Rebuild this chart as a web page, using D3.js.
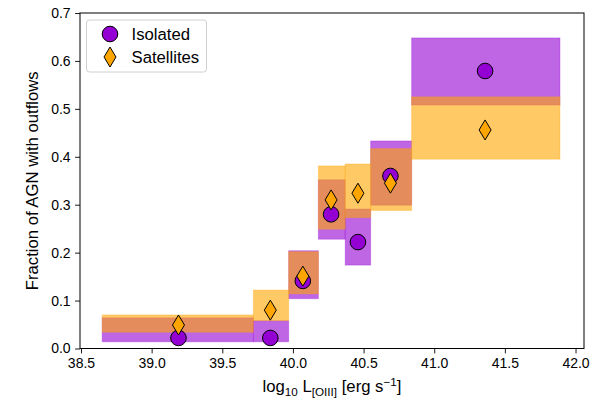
<!DOCTYPE html>
<html><head><meta charset="utf-8">
<script src="https://cdn.jsdelivr.net/npm/d3@7"></script>
<style>body{margin:0;background:#fff}svg{font-family:"Liberation Sans",Arial,sans-serif}</style>
</head><body><svg id="c" width="600" height="400"></svg>
<script>
const binLo = [38.65, 39.72, 39.97, 40.18, 40.37, 40.55, 40.84];
const binHi = [39.72, 39.97, 40.18, 40.37, 40.55, 40.84, 41.89];
const isoX  = [39.19, 39.84, 40.07, 40.27, 40.46, 40.69, 41.36];
const isoY  = [0.022, 0.022, 0.141, 0.280, 0.222, 0.360, 0.579];
const isoLo = [0.014, 0.014, 0.104, 0.228, 0.174, 0.299, 0.508];
const isoHi = [0.064, 0.058, 0.204, 0.352, 0.291, 0.433, 0.648];
const satY  = [0.049, 0.080, 0.151, 0.310, 0.324, 0.345, 0.456];
const satLo = [0.034, 0.058, 0.114, 0.249, 0.273, 0.288, 0.395];
const satHi = [0.070, 0.122, 0.202, 0.381, 0.385, 0.417, 0.525];
const xTicks = [38.5, 39.0, 39.5, 40.0, 40.5, 41.0, 41.5, 42.0];
const yTicks = [0.0, 0.1, 0.2, 0.3, 0.4, 0.5, 0.6, 0.7];
const seriesNames = ["Isolated", "Satellites"];

const L = 80, R = 584, T = 13, B = 348.5;
const svg = d3.select("#c");
const x = d3.scaleLinear().domain([38.493, 42.06]).range([L, R]);
const y = d3.scaleLinear().domain([0, 0.7]).range([B, T]);

const purple = "#9400D3", orange = "#FFA500";
const idx = d3.range(binLo.length);

function boxes(lo, hi, col) {
  svg.append("g").selectAll("rect").data(idx).join("rect")
    .attr("x", i => x(binLo[i])).attr("width", i => x(binHi[i]) - x(binLo[i]))
    .attr("y", i => y(hi[i])).attr("height", i => y(lo[i]) - y(hi[i]))
    .attr("fill", col).attr("fill-opacity", 0.6)
    .attr("stroke", col).attr("stroke-opacity", 0.3).attr("stroke-width", 1);
}
boxes(isoLo, isoHi, purple);
boxes(satLo, satHi, orange);

const diamond = (cx, cy) => `M${cx},${cy-10}L${cx+6},${cy}L${cx},${cy+10}L${cx-6},${cy}Z`;

svg.append("g").selectAll("circle").data(idx).join("circle")
  .attr("cx", i => x(isoX[i])).attr("cy", i => y(isoY[i])).attr("r", 7.8)
  .attr("fill", purple).attr("stroke", "#000").attr("stroke-width", 1);
svg.append("g").selectAll("path").data(idx).join("path")
  .attr("d", i => diamond(x(isoX[i]), y(satY[i])))
  .attr("fill", orange).attr("stroke", "#000").attr("stroke-width", 1);

// axes
const xa = svg.append("g").attr("transform", `translate(0,${B})`)
  .call(d3.axisBottom(x).tickValues(xTicks).tickFormat(d3.format(".1f")).tickSize(4.9).tickPadding(4.5));
const ya = svg.append("g").attr("transform", `translate(${L},0)`)
  .call(d3.axisLeft(y).tickValues(yTicks).tickFormat(d3.format(".1f")).tickSize(4.9).tickPadding(4.5));
[xa, ya].forEach(a => {
  a.select(".domain").remove();
  a.selectAll("text").attr("font-size", 14).attr("fill", "#000").attr("font-family", '"Liberation Sans",Arial,sans-serif');
  a.selectAll("line").attr("stroke", "#000").attr("stroke-width", 0.9);
});
svg.append("rect").attr("x", L).attr("y", T).attr("width", R - L).attr("height", B - T)
  .attr("fill", "none").attr("stroke", "#000").attr("stroke-width", 1);

// labels
const xl = svg.append("text").attr("x", (L + R) / 2).attr("y", 392).attr("text-anchor", "middle")
  .attr("font-size", 16.7).attr("fill", "#000");
xl.append("tspan").text("log");
xl.append("tspan").attr("font-size", 11.7).attr("dy", 3.5).text("10");
xl.append("tspan").attr("dy", -3.5).text(" L");
xl.append("tspan").attr("font-size", 11.7).attr("dy", 3.5).text("[OIII]");
xl.append("tspan").attr("dy", -3.5).text(" [erg s");
xl.append("tspan").attr("font-size", 11.7).attr("dy", -6).text("\u22121");
xl.append("tspan").attr("dy", 6).text("]");

svg.append("text").attr("transform", `translate(37.5,${(T + B) / 2}) rotate(-90)`)
  .attr("text-anchor", "middle").attr("font-size", 16.7).attr("fill", "#000")
  .text("Fraction of AGN with outflows");

// legend
const lg = svg.append("g");
lg.append("rect").attr("x", 86.5).attr("y", 20).attr("width", 120).attr("height", 52).attr("rx", 3)
  .attr("fill", "#fff").attr("fill-opacity", 0.8).attr("stroke", "#d0d0d0").attr("stroke-width", 1);
lg.append("circle").attr("cx", 110).attr("cy", 34).attr("r", 7.8)
  .attr("fill", purple).attr("stroke", "#000");
lg.append("path").attr("d", diamond(110, 57)).attr("fill", orange).attr("stroke", "#000");
lg.selectAll("text").data(seriesNames).join("text")
  .attr("x", 131.5).attr("y", (d, i) => 39.5 + i * 23).attr("font-size", 16.7).attr("fill", "#000").text(d => d);
</script></body></html>
